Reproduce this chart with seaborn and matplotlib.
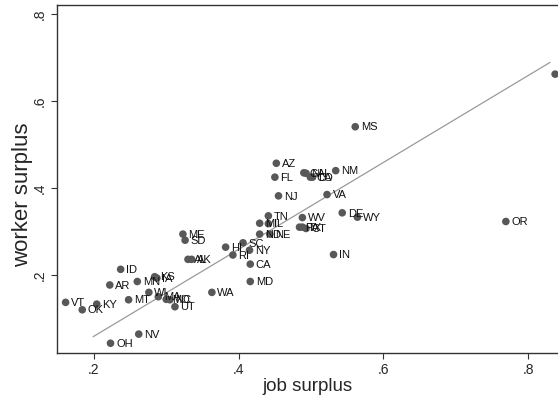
import numpy as np
import pandas as pd
import matplotlib
matplotlib.use("Agg")
import matplotlib.pyplot as plt
import seaborn as sns

states = ["VT", "OK", "KY", "AR", "ID", "MT", "MN", "OH", "NV", "KS",
          "IA", "WI", "MA", "MO", "NC", "UT", "WA", "AL", "AK", "HI",
          "RI", "SC", "NY", "CA", "MD", "IN", "ME", "SD", "MS", "AZ",
          "FL", "GA", "NH", "CO", "LA", "NM", "NJ", "VA", "DE", "WY",
          "TN", "WV", "PA", "TX", "CT", "OR", "MI", "IL", "ND", "NE", "DC"]
job_surplus = [0.161, 0.184, 0.204, 0.222, 0.237, 0.248, 0.260, 0.223, 0.262, 0.284,
               0.287, 0.276, 0.289, 0.300, 0.305, 0.312, 0.363, 0.330, 0.335, 0.382,
               0.392, 0.406, 0.415, 0.416, 0.416, 0.531, 0.323, 0.326, 0.561, 0.452,
               0.450, 0.490, 0.493, 0.499, 0.502, 0.534, 0.455, 0.522, 0.543, 0.564,
               0.441, 0.488, 0.484, 0.488, 0.493, 0.769, 0.429, 0.441, 0.429, 0.443, 0.837]
worker_surplus = [0.137, 0.120, 0.133, 0.177, 0.213, 0.143, 0.185, 0.043, 0.064, 0.196,
                  0.193, 0.160, 0.150, 0.144, 0.143, 0.127, 0.160, 0.236, 0.236, 0.264,
                  0.246, 0.274, 0.257, 0.225, 0.185, 0.247, 0.294, 0.280, 0.541, 0.457,
                  0.425, 0.435, 0.434, 0.425, 0.425, 0.440, 0.382, 0.385, 0.343, 0.333,
                  0.336, 0.332, 0.310, 0.310, 0.307, 0.323, 0.319, 0.318, 0.294, 0.294, 0.662]
show_label = [True] * 50 + [False]

# fitted line
fit_slope = 1.0
fit_intercept = -0.141
fit_range = [0.199, 0.830]

df = pd.DataFrame({"state": states, "job": job_surplus, "worker": worker_surplus,
                   "show": show_label})

sns.set_style("white")
plt.rcParams["font.family"] = ["Liberation Sans", "DejaVu Sans"]

fig = plt.figure(figsize=(5.58, 4), dpi=100)
ax = fig.add_axes([0.102, 0.118, 0.898, 0.8695])

fit_x = np.array(fit_range)
sns.lineplot(x=fit_x, y=fit_slope * fit_x + fit_intercept, ax=ax,
             color="#9a9a9a", linewidth=0.9)
sns.scatterplot(data=df, x="job", y="worker", ax=ax, color="#585858",
                s=30, edgecolor="none", zorder=3)

for _, r in df[df["show"]].iterrows():
    ax.annotate(r["state"], (r["job"], r["worker"]), xytext=(4, -0.5),
                textcoords="offset points", va="center", ha="left",
                fontsize=8, color="#111111")

ax.set_xlim(0.149, 0.841)
ax.set_ylim(0.021, 0.821)
ax.set_xticks([0.2, 0.4, 0.6, 0.8])
ax.set_xticklabels([".2", ".4", ".6", ".8"])
ax.set_yticks([0.2, 0.4, 0.6, 0.8])
ax.set_yticklabels([".2", ".4", ".6", ".8"], rotation=90, va="center")
ax.tick_params(axis="both", direction="out", length=4, width=0.8,
               labelsize=10, color="#333333", pad=3, bottom=True, left=True)
ax.set_xlabel("job surplus", fontsize=13.5, labelpad=1)
ax.set_ylabel("worker surplus", fontsize=16)
ax.yaxis.set_label_coords(-0.047, 0.455)

for side in ["left", "bottom", "top"]:
    ax.spines[side].set_color("#333333")
    ax.spines[side].set_linewidth(1.0)
ax.spines["right"].set_visible(False)

fig.savefig("out.png", dpi=100)
